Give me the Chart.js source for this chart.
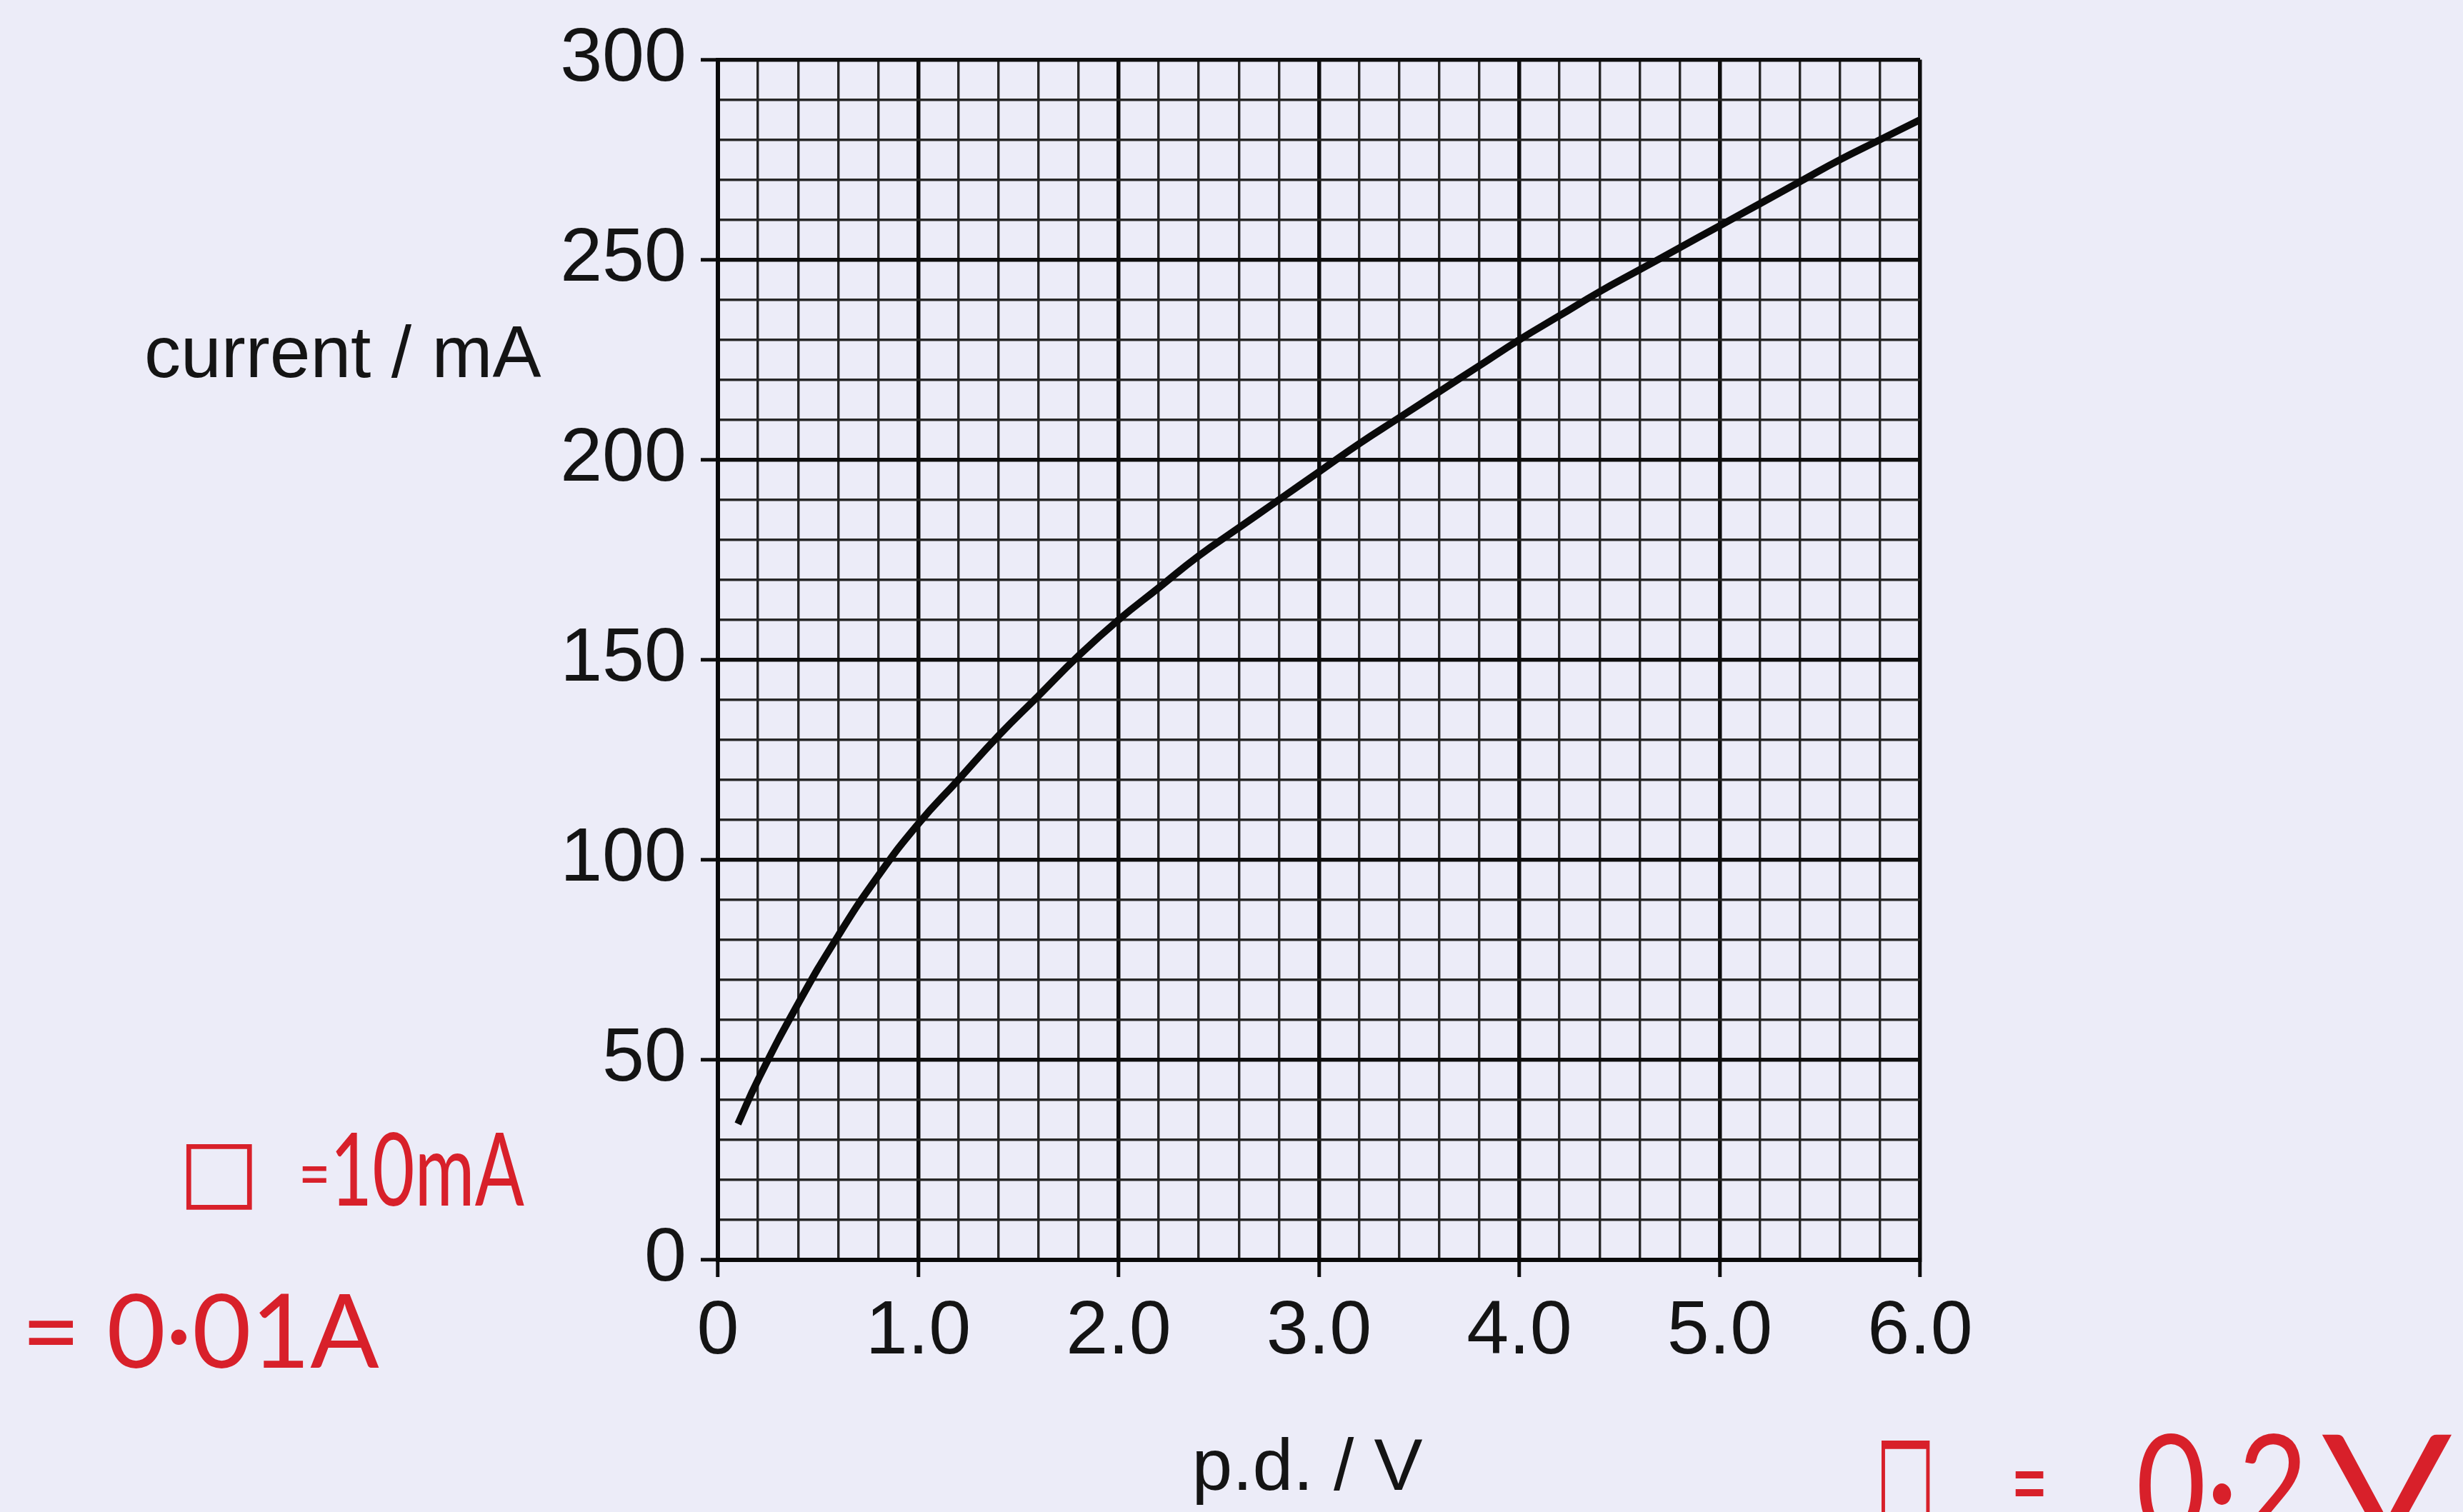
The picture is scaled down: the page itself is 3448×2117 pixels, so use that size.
<!DOCTYPE html>
<html>
<head>
<meta charset="utf-8">
<script src="https://cdn.jsdelivr.net/npm/chart.js@4.4.1/dist/chart.umd.min.js"></script>
<style>
  html, body { margin:0; padding:0; width:3448px; height:2117px; overflow:hidden;
    background:#ececf8; font-family:"Liberation Sans", Arial, sans-serif; }
  #wrap { position:absolute; left:0; top:0; width:3448px; height:2117px; }
  .lbl { position:absolute; white-space:pre; line-height:1; color:#141414; font-size:102px; }
  .red { position:absolute; white-space:pre; line-height:1; color:#d8202a;
         font-family:"Lato", "Open Sans", sans-serif; font-weight:400; transform-origin:0 0; }
  .box { font-family:"DejaVu Sans", sans-serif; }
</style>
</head>
<body>
<div id="wrap"><canvas id="c" width="3448" height="2117"></canvas></div>
<div class="lbl" style="left:202px; top:442px;">current / mA</div>
<div class="lbl" style="left:1830px; top:2000px; transform:translateX(-50%);">p.d. / V</div>

<div class="red box" style="left:250px; top:1578px; font-size:120px;">□</div>
<div class="red" style="left:418px; top:1592px; font-size:96px; transform:scaleX(0.8);">=</div>
<div class="red" style="left:462px; top:1562px; font-size:142px; transform:scaleX(0.72);">10mA</div>

<div class="red" style="left:30px; top:1788px; font-size:144px; transform:scaleX(0.99);">= 0·01A</div>

<div class="red box" style="left:2626px; top:1975px; font-size:210px; transform:scaleX(0.42);">□</div>
<div class="red" style="left:2815px; top:1995px; font-size:150px; transform:scaleX(0.6);">=</div>
<div class="red" style="left:2990px; top:1975px; font-size:200px; transform:scaleX(0.85);">0·2</div>
<div class="red" style="left:3250px; top:1975px; font-size:200px; transform:scaleX(1.35);">V</div>
<script>
// p.d. / V
const voltage = [0.1, 0.2, 0.4, 0.6, 0.8, 1.0, 1.2, 1.4, 1.6, 1.8, 2.0, 2.2, 2.4, 2.6, 2.8, 3.0,
                 3.2, 3.4, 3.6, 3.8, 4.0, 4.2, 4.4, 4.6, 4.8, 5.0, 5.2, 5.4, 5.6, 5.8, 6.0];
// current / mA
const current = [34, 45, 64, 81, 96, 109, 120, 131, 141, 151, 160, 168, 176, 183, 190, 197,
                 204, 210.5, 217, 223.5, 230, 236, 242, 247.5, 253, 258.5, 264, 269.5, 275, 280, 285];
const xMajorTicks = [0, 1, 2, 3, 4, 5, 6];
const xTickLabels = ['0', '1.0', '2.0', '3.0', '4.0', '5.0', '6.0'];
const yMajorTicks = [0, 50, 100, 150, 200, 250, 300];
const yTickLabels = ['0', '50', '100', '150', '200', '250', '300'];

const xGrid = []; for (let i = 0; i <= 30; i++) xGrid.push(Math.round(i * 2) / 10);
const yGrid = []; for (let i = 0; i <= 30; i++) yGrid.push(i * 10);

function majorIndex(v, majors) {
  for (let i = 0; i < majors.length; i++) if (Math.abs(v - majors[i]) < 1e-6) return i;
  return -1;
}
function gridOpts(majors) {
  return {
    display: true,
    drawOnChartArea: true,
    drawTicks: true,
    tickLength: 24,
    color: c => majorIndex(c.tick ? c.tick.value : NaN, majors) >= 0 ? '#0e0e0e' : '#262626',
    lineWidth: c => majorIndex(c.tick ? c.tick.value : NaN, majors) >= 0 ? 5.5 : 3.4,
    tickColor: c => majorIndex(c.tick ? c.tick.value : NaN, majors) >= 0 ? '#0e0e0e' : 'rgba(0,0,0,0)',
    tickWidth: 5
  };
}
const font = { family: '"Liberation Sans", Arial, sans-serif', size: 106 };

new Chart(document.getElementById('c'), {
  type: 'line',
  data: {
    datasets: [{
      data: voltage.map((v, i) => ({ x: v, y: current[i] })),
      borderColor: '#0a0a0a',
      borderWidth: 10,
      tension: 0.5,
      pointRadius: 0,
      fill: false,
      borderCapStyle: 'butt'
    }]
  },
  options: {
    responsive: false,
    animation: false,
    devicePixelRatio: 1,
    layout: { padding: { left: 705, right: 760, top: 80, bottom: 203 } },
    plugins: { legend: { display: false }, tooltip: { enabled: false }, title: { display: false } },
    scales: {
      x: {
        type: 'linear', min: 0, max: 6,
        clip: false,
        afterBuildTicks: s => { s.ticks = xGrid.map(v => ({ value: v })); },
        afterFit: s => { s.height = 150; },
        grid: gridOpts(xMajorTicks),
        border: { display: true, color: '#0a0a0a', width: 6 },
        ticks: {
          autoSkip: false, maxRotation: 0, minRotation: 0, padding: 14,
          color: '#141414', font: font,
          callback: v => { const i = majorIndex(v, xMajorTicks); return i >= 0 ? xTickLabels[i] : ''; }
        }
      },
      y: {
        type: 'linear', min: 0, max: 300,
        clip: false,
        afterBuildTicks: s => { s.ticks = yGrid.map(v => ({ value: v })); },
        afterFit: s => { s.width = 300; },
        grid: gridOpts(yMajorTicks),
        border: { display: true, color: '#0a0a0a', width: 6 },
        ticks: {
          autoSkip: false, padding: 20,
          color: '#141414', font: font,
          callback: v => { const i = majorIndex(v, yMajorTicks); return i >= 0 ? yTickLabels[i] : ''; }
        }
      }
    }
  }
});
</script>
</body>
</html>
